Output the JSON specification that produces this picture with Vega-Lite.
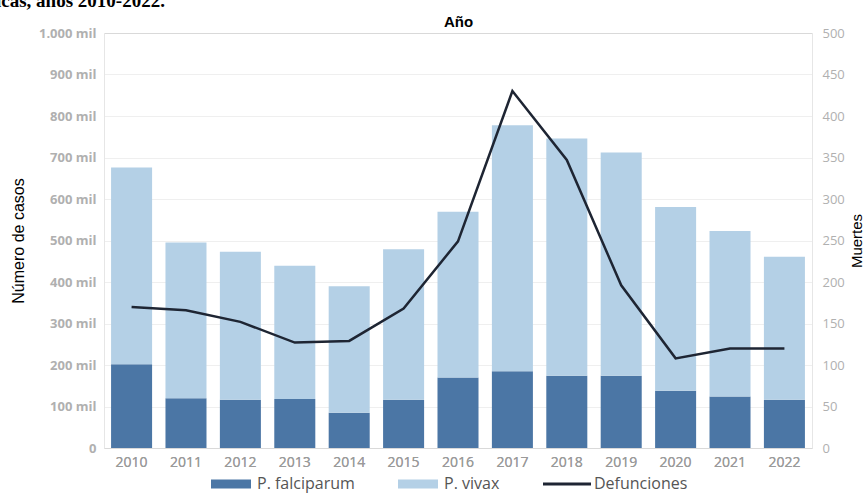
{
  "$schema": "https://vega.github.io/schema/vega-lite/v6.json",
  "width": 708,
  "height": 415,
  "autosize": {"type": "none"},
  "padding": {"left": 104, "top": 33, "right": 54, "bottom": 47},
  "background": "white",
  "title": {
    "text": "icas, años 2010-2022.",
    "anchor": "start",
    "frame": "group",
    "font": "Liberation Serif",
    "fontSize": 19,
    "fontWeight": "bold",
    "color": "#000000",
    "baseline": "bottom",
    "dx": -108,
    "offset": -16
  },
  "config": {
    "view": {"stroke": null},
    "axis": {"labelFont": "Open Sans", "titleFont": "Liberation Sans"},
    "legend": {"labelFont": "Open Sans"}
  },
  "datasets": {
    "casos": [
      {"anio": "2010", "especie": "P. falciparum", "casos": 202},
      {"anio": "2010", "especie": "P. vivax", "casos": 474},
      {"anio": "2011", "especie": "P. falciparum", "casos": 120},
      {"anio": "2011", "especie": "P. vivax", "casos": 375},
      {"anio": "2012", "especie": "P. falciparum", "casos": 116},
      {"anio": "2012", "especie": "P. vivax", "casos": 357},
      {"anio": "2013", "especie": "P. falciparum", "casos": 118},
      {"anio": "2013", "especie": "P. vivax", "casos": 321},
      {"anio": "2014", "especie": "P. falciparum", "casos": 85},
      {"anio": "2014", "especie": "P. vivax", "casos": 305},
      {"anio": "2015", "especie": "P. falciparum", "casos": 116},
      {"anio": "2015", "especie": "P. vivax", "casos": 363},
      {"anio": "2016", "especie": "P. falciparum", "casos": 170},
      {"anio": "2016", "especie": "P. vivax", "casos": 399},
      {"anio": "2017", "especie": "P. falciparum", "casos": 185},
      {"anio": "2017", "especie": "P. vivax", "casos": 593},
      {"anio": "2018", "especie": "P. falciparum", "casos": 174},
      {"anio": "2018", "especie": "P. vivax", "casos": 572},
      {"anio": "2019", "especie": "P. falciparum", "casos": 174},
      {"anio": "2019", "especie": "P. vivax", "casos": 538},
      {"anio": "2020", "especie": "P. falciparum", "casos": 138},
      {"anio": "2020", "especie": "P. vivax", "casos": 443},
      {"anio": "2021", "especie": "P. falciparum", "casos": 124},
      {"anio": "2021", "especie": "P. vivax", "casos": 399},
      {"anio": "2022", "especie": "P. falciparum", "casos": 116},
      {"anio": "2022", "especie": "P. vivax", "casos": 345}
    ],
    "muertes": [
      {"anio": "2010", "serie": "Defunciones", "muertes": 170},
      {"anio": "2011", "serie": "Defunciones", "muertes": 166},
      {"anio": "2012", "serie": "Defunciones", "muertes": 152},
      {"anio": "2013", "serie": "Defunciones", "muertes": 127},
      {"anio": "2014", "serie": "Defunciones", "muertes": 129},
      {"anio": "2015", "serie": "Defunciones", "muertes": 168},
      {"anio": "2016", "serie": "Defunciones", "muertes": 249},
      {"anio": "2017", "serie": "Defunciones", "muertes": 430},
      {"anio": "2018", "serie": "Defunciones", "muertes": 347},
      {"anio": "2019", "serie": "Defunciones", "muertes": 196},
      {"anio": "2020", "serie": "Defunciones", "muertes": 108},
      {"anio": "2021", "serie": "Defunciones", "muertes": 120},
      {"anio": "2022", "serie": "Defunciones", "muertes": 120}
    ]
  },
  "encoding": {
    "x": {
      "field": "anio",
      "type": "nominal",
      "scale": {"paddingInner": 0.246, "paddingOuter": 0.13},
      "axis": {
        "orient": "bottom",
        "title": null,
        "labelAngle": 0,
        "labelColor": "#9a9a9a",
        "labelFontSize": 14,
        "labelPadding": 7,
        "ticks": false,
        "domainColor": "#d9d9d9"
      }
    }
  },
  "layer": [
    {
      "data": {"name": "casos"},
      "mark": {"type": "bar"},
      "encoding": {
        "y": {
          "field": "casos",
          "type": "quantitative",
          "stack": "zero",
          "scale": {"domain": [0, 1000], "nice": false},
          "axis": {
            "orient": "left",
            "values": [0, 100, 200, 300, 400, 500, 600, 700, 800, 900, 1000],
            "labelExpr": "datum.value == 0 ? '0' : datum.value == 1000 ? '1.000 mil' : datum.value + ' mil'",
            "labelColor": "#b0b0b0",
            "labelFontSize": 13,
            "labelFontWeight": "bold",
            "labelPadding": 8,
            "ticks": false,
            "domainColor": "#e6e6e6",
            "gridColor": "#efefef",
            "title": "Número de casos",
            "titleFontSize": 16,
            "titleFontWeight": "normal",
            "titleColor": "#000000",
            "titlePadding": 12
          }
        },
        "color": {
          "field": "especie",
          "type": "nominal",
          "scale": {
            "domain": ["P. falciparum", "P. vivax", "Defunciones"],
            "range": ["#4b76a5", "#b4d0e6", "#1e2533"]
          },
          "legend": {
            "orient": "none",
            "legendX": 106,
            "legendY": 430,
            "direction": "horizontal",
            "title": null,
            "labelFontSize": 16,
            "labelColor": "#555555",
            "symbolSize": 1600,
            "symbolType": "M-1,-0.21h2v0.42h-2z",
            "columnPadding": 40,
            "labelOffset": 5,
            "encode": {
              "symbols": {
                "update": {
                  "shape": {"signal": "datum.value === 'Defunciones' ? 'M-1.25,-0.07h2.4v0.14h-2.4z' : 'M-1,-0.22h2v0.44h-2z'"},
                  "fill": {"signal": "datum.value === 'P. falciparum' ? '#4472c4' : datum.value === 'P. vivax' ? '#b4c7e7' : '#2a3142'"},
                  "stroke": {"value": "transparent"},
                  "opacity": {"value": 1}
                }
              }
            }
          }
        },
        "order": {"field": "especie", "sort": "ascending"}
      }
    },
    {
      "data": {"name": "muertes"},
      "mark": {"type": "line", "strokeWidth": 2.5, "color": "#1e2533"},
      "encoding": {
        "y": {
          "field": "muertes",
          "type": "quantitative",
          "scale": {"domain": [0, 500], "nice": false},
          "axis": {
            "orient": "right",
            "values": [0, 50, 100, 150, 200, 250, 300, 350, 400, 450, 500],
            "labelColor": "#b0b0b0",
            "labelFontSize": 13,
            "labelPadding": 10,
            "ticks": false,
            "grid": false,
            "domainColor": "#e6e6e6",
            "title": "Muertes",
            "titleAngle": 270,
            "titleFontSize": 15,
            "titleFontWeight": "normal",
            "titleColor": "#000000",
            "titlePadding": 20
          }
        }
      }
    },
    {
      "data": {"name": "muertes"},
      "mark": {"type": "rule", "opacity": 0},
      "encoding": {
        "x": {
          "field": "anio",
          "type": "nominal",
          "axis": {
            "orient": "top",
            "title": "Año",
            "labels": false,
            "ticks": false,
            "domainColor": "#d9d9d9",
            "titleFont": "Liberation Sans",
            "titleFontSize": 15,
            "titleFontWeight": "bold",
            "titleColor": "#000000",
            "titlePadding": 4
          }
        }
      }
    }
  ],
  "resolve": {"scale": {"y": "independent"}, "axis": {"x": "independent"}}
}
